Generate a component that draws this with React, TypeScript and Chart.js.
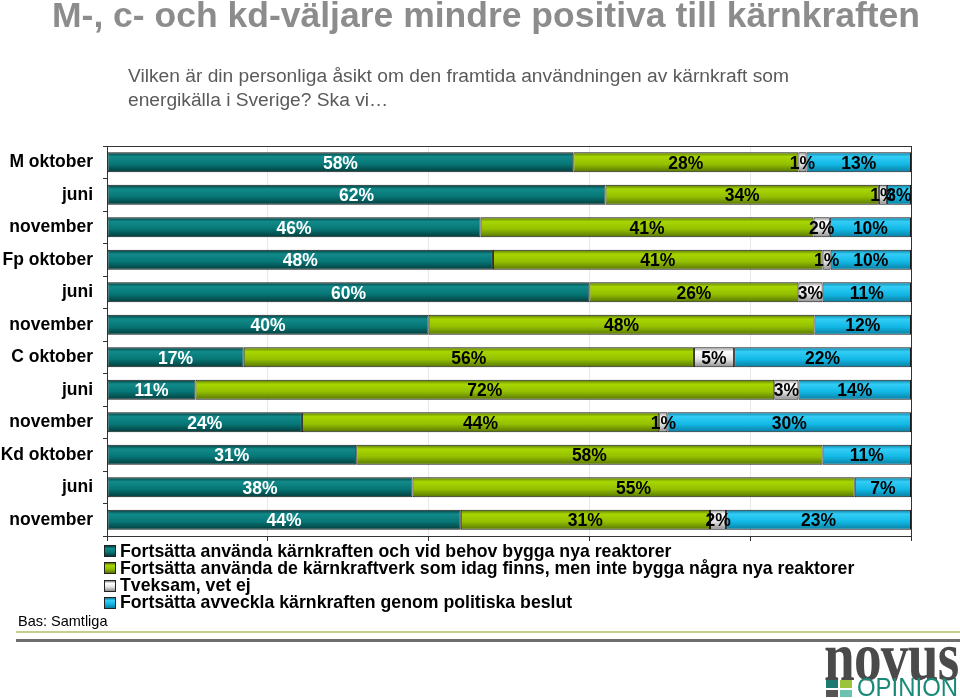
import React, { useEffect, useRef } from "react";
import { Chart, registerables } from "chart.js";

Chart.register(...registerables);

const categories = [
  "M oktober", "juni", "november",
  "Fp oktober", "juni", "november",
  "C oktober", "juni", "november",
  "Kd oktober", "juni", "november",
];
const seriesNames = [
  "Fortsätta använda kärnkraften och vid behov bygga nya reaktorer",
  "Fortsätta använda de kärnkraftverk som idag finns, men inte bygga några nya reaktorer",
  "Tveksam, vet ej",
  "Fortsätta avveckla kärnkraften genom politiska beslut",
];
const buildNew = [58, 62, 46, 48, 60, 40, 17, 11, 24, 31, 38, 44];
const keepExisting = [28, 34, 41, 41, 26, 48, 56, 72, 44, 58, 55, 31];
const unsure = [1, 1, 2, 1, 3, 0, 5, 3, 1, 0, 0, 2];
const phaseOut = [13, 3, 10, 10, 11, 12, 22, 14, 30, 11, 7, 23];
const xTickValues = [0, 20, 40, 60, 80, 100];

const rawSeries = [buildNew, keepExisting, unsure, phaseOut];

// [edge, light, mid]
const palettes = [
  ["#033a3a", "#128a8a", "#067575"],
  ["#557200", "#a8d600", "#94bf00"],
  ["#8a8a8a", "#ffffff", "#e4e4e4"],
  ["#0a7c9f", "#33cdf6", "#12b8e5"],
];
const labelColors = ["#ffffff", "#000000", "#000000", "#000000"];

const BAR_PCT = 0.62;
const FONT = "'Liberation Sans', Arial, sans-serif";

function rowTotals() {
  return categories.map((_, j) => rawSeries.reduce((s, arr) => s + arr[j], 0));
}

const labelsPlugin = {
  id: "segmentLabels",
  afterDatasetsDraw(chart: any) {
    const ctx = chart.ctx;
    ctx.save();
    ctx.font = `bold 17.5px ${FONT}`;
    ctx.textAlign = "center";
    ctx.textBaseline = "middle";
    chart.data.datasets.forEach((ds: any, i: number) => {
      const meta = chart.getDatasetMeta(i);
      meta.data.forEach((bar: any, j: number) => {
        const v = rawSeries[i][j];
        if (!v) return;
        const p = bar.getProps(["x", "base", "y"], true);
        ctx.fillStyle = labelColors[i];
        ctx.fillText(`${v}%`, (p.x + p.base) / 2, p.y + 1.5);
      });
    });
    ctx.restore();
  },
};

const framePlugin = {
  id: "frame",
  beforeDatasetsDraw(chart: any) {
    const { ctx, chartArea } = chart;
    ctx.save();
    ctx.strokeStyle = "#333333";
    ctx.lineWidth = 1;
    ctx.strokeRect(
      Math.round(chartArea.left) + 0.5,
      Math.round(chartArea.top) + 0.5,
      Math.round(chartArea.right - chartArea.left),
      Math.round(chartArea.bottom - chartArea.top)
    );
    ctx.restore();
  },
};

function makeFill(seriesIndex: number) {
  return (c: any) => {
    const pal = palettes[seriesIndex];
    if (c.type !== "data" || !c.chart.chartArea) return pal[2];
    const y = c.chart.scales.y;
    const yc = y.getPixelForValue(c.dataIndex);
    const h = ((y.bottom - y.top) / categories.length) * BAR_PCT;
    const g = c.chart.ctx.createLinearGradient(0, yc - h / 2, 0, yc + h / 2);
    g.addColorStop(0, pal[0]);
    g.addColorStop(0.22, pal[1]);
    g.addColorStop(0.6, pal[2]);
    g.addColorStop(1, pal[0]);
    return g;
  };
}

function legendSwatch(i: number) {
  const pal = palettes[i];
  return `linear-gradient(to bottom, ${pal[0]} 0%, ${pal[1]} 25%, ${pal[2]} 60%, ${pal[0]} 100%)`;
}

export default function App() {
  const canvasRef = useRef<HTMLCanvasElement | null>(null);

  useEffect(() => {
    const totals = rowTotals();
    const datasets = rawSeries.map((arr, i) => ({
      label: seriesNames[i],
      data: arr.map((v, j) => (v / totals[j]) * 100),
      backgroundColor: makeFill(i),
      borderColor: "#1a1a1a",
      borderWidth: 1,
      borderSkipped: false,
      barPercentage: BAR_PCT,
      categoryPercentage: 1,
    }));
    const chart = new Chart(canvasRef.current as HTMLCanvasElement, {
      type: "bar",
      data: { labels: categories, datasets },
      plugins: [framePlugin, labelsPlugin],
      options: {
        indexAxis: "y",
        responsive: false,
        animation: false,
        layout: { padding: { left: 0, top: 146, right: 49, bottom: 152 } },
        plugins: {
          legend: { display: false },
          title: { display: false },
          tooltip: { enabled: false },
        },
        scales: {
          x: {
            stacked: true,
            min: 0,
            max: 100,
            afterBuildTicks: (s: any) => {
              s.ticks = xTickValues.map((v) => ({ value: v }));
            },
            afterFit: (s: any) => {
              s.height = 10;
            },
            ticks: { display: false },
            grid: {
              color: "#e8e8e8",
              tickColor: "#333333",
              tickLength: 5,
              drawTicks: true,
            },
            border: { display: true, color: "#333333", width: 1 },
          },
          y: {
            stacked: true,
            afterFit: (s: any) => {
              s.width = 107;
            },
            ticks: {
              color: "#000000",
              padding: 10,
              font: { family: FONT, size: 17.5, weight: "bold" },
            },
            grid: {
              offset: true,
              drawOnChartArea: false,
              drawTicks: true,
              tickLength: 4,
              tickColor: "#333333",
            },
            border: { display: true, color: "#333333", width: 1 },
          },
        },
      } as any,
    });
    return () => chart.destroy();
  }, []);

  const abs: React.CSSProperties = { position: "absolute", margin: 0, whiteSpace: "nowrap", fontFamily: FONT };

  return (
    <div style={{ position: "absolute", left: 0, top: 0, width: 960, height: 698, background: "#ffffff", overflow: "hidden" }}>
      <canvas ref={canvasRef} width={960} height={698} style={{ position: "absolute", left: 0, top: 0, width: 960, height: 698 }} />
      <div style={{ ...abs, left: 52, top: -2, fontSize: 35.5, lineHeight: 1, fontWeight: "bold", color: "#8c8c8c" }}>
        M-, c- och kd-väljare mindre positiva till kärnkraften
      </div>
      <div style={{ ...abs, left: 128, top: 63.5, fontSize: 19.2, lineHeight: "24px", color: "#5a5a5a" }}>
        Vilken är din personliga åsikt om den framtida användningen av kärnkraft som
        <br />
        energikälla i Sverige? Ska vi…
      </div>
      <div style={{ ...abs, left: 104, top: 542.5 }}>
        {seriesNames.map((n, i) => (
          <div key={i} style={{ height: 17.3, lineHeight: "17.3px", fontSize: 17.7, fontWeight: "bold", color: "#000", display: "flex", alignItems: "center" }}>
            <span style={{ display: "inline-block", width: 10, height: 10, border: "1px solid #222", background: legendSwatch(i), marginRight: 4 }} />
            <span>{n}</span>
          </div>
        ))}
      </div>
      <div style={{ ...abs, left: 18, top: 614.4, fontSize: 14.5, lineHeight: 1, color: "#000" }}>Bas: Samtliga</div>
      <div style={{ position: "absolute", left: 16, top: 631, width: 944, height: 2, background: "#c9cc8f" }} />
      <div style={{ position: "absolute", left: 16, top: 639, width: 944, height: 2.5, background: "#6e6e6e" }} />
      <div style={{ ...abs, left: 824, top: 621.5, fontSize: 70, lineHeight: 1, fontFamily: "'Liberation Serif', 'DejaVu Serif', serif", fontWeight: "bold", color: "#4a4a4a", transform: "scaleX(0.79)", transformOrigin: "left top", letterSpacing: -1 }}>
        novus
      </div>
      <div style={{ position: "absolute", left: 826, top: 680, width: 12, height: 8, background: "#1e7a70" }} />
      <div style={{ position: "absolute", left: 840, top: 680, width: 12, height: 8, background: "#9cc33c" }} />
      <div style={{ position: "absolute", left: 826, top: 690, width: 12, height: 7, background: "#555555" }} />
      <div style={{ position: "absolute", left: 840, top: 690, width: 12, height: 7, background: "#6cc2b0" }} />
      <div style={{ ...abs, left: 857, top: 674, fontSize: 26, lineHeight: 1, color: "#1a8a78", transform: "scaleX(0.92)", transformOrigin: "left top" }}>
        OPINION
      </div>
    </div>
  );
}
